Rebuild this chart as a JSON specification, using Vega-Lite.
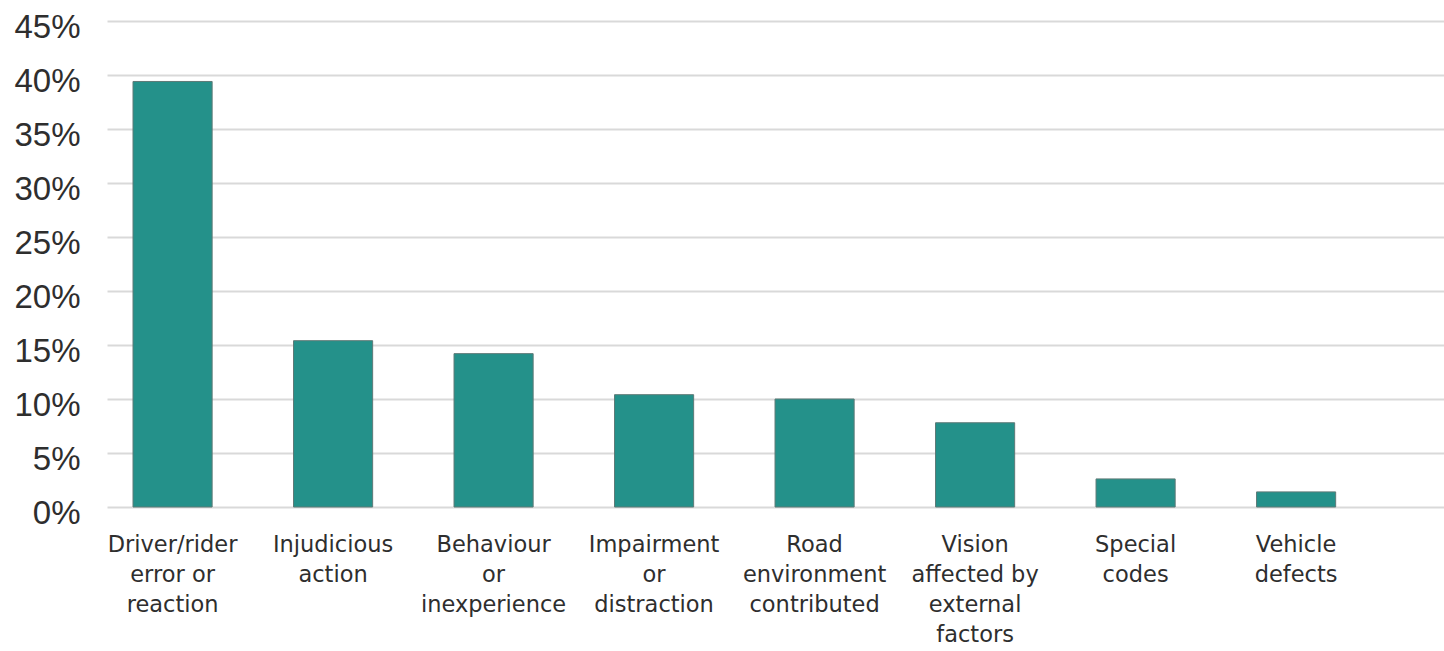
{
  "$schema": "https://vega.github.io/schema/vega-lite/v6.json",
  "width": 1337,
  "height": 486,
  "autosize": "none",
  "padding": {"left": 107, "top": 21, "right": 0, "bottom": 144},
  "background": "white",
  "data": {
    "values": [
      {"cause": "Driver/rider error or reaction", "share": 0.394},
      {"cause": "Injudicious action", "share": 0.154},
      {"cause": "Behaviour or inexperience", "share": 0.142},
      {"cause": "Impairment or distraction", "share": 0.104},
      {"cause": "Road environment contributed", "share": 0.100},
      {"cause": "Vision affected by external factors", "share": 0.078},
      {"cause": "Special codes", "share": 0.026},
      {"cause": "Vehicle defects", "share": 0.014}
    ]
  },
  "config": {
    "view": {"stroke": null},
    "font": "Liberation Sans"
  },
  "mark": {"type": "bar", "color": "#24918a", "stroke": "#5d7a77", "strokeWidth": 1},
  "encoding": {
    "x": {
      "field": "cause",
      "type": "nominal",
      "sort": null,
      "scale": {"paddingInner": 0.507, "paddingOuter": 0.4185, "align": 0.1936},
      "axis": {
        "title": null,
        "domain": false,
        "ticks": false,
        "tickSize": 0,
        "labelAngle": 0,
        "labelPadding": 26,
        "labelFont": "DejaVu Sans",
        "labelFontSize": 22.5,
        "labelColor": "#2e2e2e",
        "labelLineHeight": 30,
        "labelLimit": 0,
        "labelBaseline": "top",
        "labelExpr": "datum.label == 'Driver/rider error or reaction' ? ['Driver/rider', 'error or', 'reaction'] : datum.label == 'Injudicious action' ? ['Injudicious', 'action'] : datum.label == 'Behaviour or inexperience' ? ['Behaviour', 'or', 'inexperience'] : datum.label == 'Impairment or distraction' ? ['Impairment', 'or', 'distraction'] : datum.label == 'Road environment contributed' ? ['Road', 'environment', 'contributed'] : datum.label == 'Vision affected by external factors' ? ['Vision', 'affected by', 'external', 'factors'] : datum.label == 'Special codes' ? ['Special', 'codes'] : ['Vehicle', 'defects']"
      }
    },
    "y": {
      "field": "share",
      "type": "quantitative",
      "scale": {"domain": [0, 0.45], "nice": false},
      "axis": {
        "title": null,
        "domain": false,
        "ticks": false,
        "tickSize": 0,
        "values": [0, 0.05, 0.1, 0.15, 0.2, 0.25, 0.3, 0.35, 0.4, 0.45],
        "format": ".0%",
        "labelPadding": 27,
        "labelFontSize": 33,
        "labelColor": "#2e2e2e",
        "labelOffset": 6,
        "grid": true,
        "gridColor": "#d9d9d9",
        "gridWidth": 2
      }
    }
  }
}
